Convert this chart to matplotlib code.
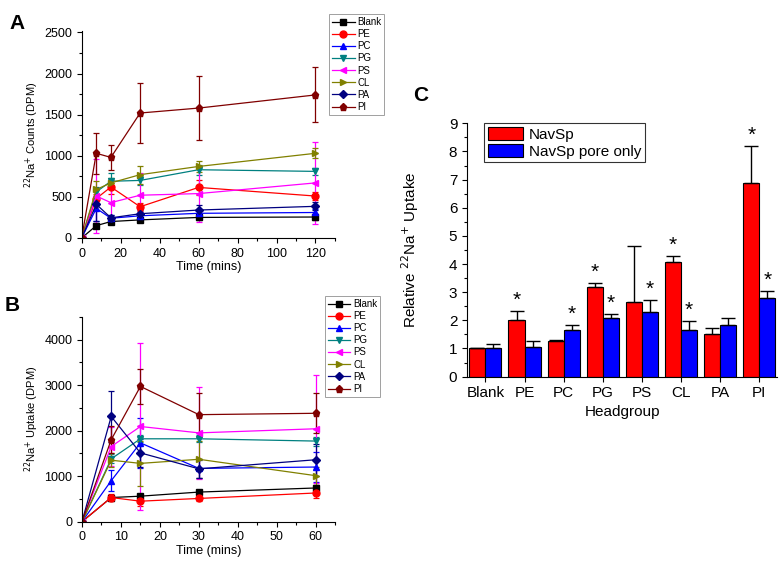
import numpy as np
import matplotlib.pyplot as plt
from matplotlib.lines import Line2D
from matplotlib.ticker import MultipleLocator

plt.rcParams['font.family'] = ['Liberation Sans', 'DejaVu Sans']

# lipid headgroups and Origin-like colours / markers
names = ['Blank', 'PE', 'PC', 'PG', 'PS', 'CL', 'PA', 'PI']
colors = ['#000000', '#FF0000', '#0000FF', '#008080', '#FF00FF', '#808000', '#000080', '#800000']
markers = ['s', 'o', '^', 'v', '<', '>', 'D', 'p']
msizes = [4.5, 5, 5, 5, 5, 5, 4, 5.2]

# panel A: counts over time
time_a = [0, 7.5, 15, 30, 60, 120]
counts_a = [
    [0, 150, 200, 220, 250, 255],
    [0, 480, 620, 380, 615, 510],
    [0, 360, 240, 270, 300, 310],
    [0, 560, 690, 700, 830, 810],
    [0, 510, 430, 520, 540, 670],
    [0, 590, 670, 770, 870, 1030],
    [0, 410, 245, 295, 340, 385],
    [0, 1030, 980, 1520, 1580, 1740],
]
err_a = [
    [0, 30, 20, 20, 30, 40],
    [0, 60, 80, 50, 90, 50],
    [0, 150, 40, 40, 50, 40],
    [0, 60, 100, 50, 60, 40],
    [0, 450, 180, 270, 340, 500],
    [0, 100, 60, 110, 70, 60],
    [0, 200, 40, 40, 60, 50],
    [0, 250, 155, 370, 390, 335],
]

# panel B: uptake over time
time_b = [0, 7.5, 15, 30, 60]
uptake_b = [
    [0, 530, 560, 650, 740],
    [0, 530, 450, 510, 630],
    [0, 900, 1730, 1170, 1200],
    [0, 1380, 1820, 1820, 1770],
    [0, 1650, 2090, 1950, 2040],
    [0, 1350, 1280, 1370, 1010],
    [0, 2310, 1510, 1160, 1360],
    [0, 1800, 2970, 2350, 2380],
]
err_b = [
    [0, 50, 50, 50, 60],
    [0, 80, 100, 60, 100],
    [0, 230, 550, 200, 330],
    [0, 100, 80, 80, 100],
    [0, 430, 1830, 1010, 1190],
    [0, 150, 500, 400, 200],
    [0, 560, 300, 200, 350],
    [0, 300, 390, 480, 440],
]

# panel C: relative uptake
navsp = [1.0, 2.03, 1.25, 3.2, 2.65, 4.07, 1.5, 6.88]
navsp_err = [0, 0.30, 0.05, 0.13, 1.98, 0.23, 0.22, 1.32]
pore = [1.0, 1.07, 1.65, 2.1, 2.28, 1.65, 1.85, 2.78]
pore_err = [0.15, 0.21, 0.2, 0.13, 0.44, 0.32, 0.22, 0.27]
navsp_sig = [False, True, False, True, False, True, False, True]
pore_sig = [False, False, True, True, True, True, False, True]

fig = plt.figure(figsize=(7.83, 5.63), dpi=100)


def style_axes(ax, size):
    ax.spines['top'].set_visible(False)
    ax.spines['right'].set_visible(False)
    ax.tick_params(which='major', direction='out', length=3.5, width=0.8, labelsize=size)
    ax.tick_params(which='minor', direction='out', length=2, width=0.8)


def line_panel(ax, t, data, errs, legend_box):
    handles = []
    for name, c, m, s, y, e in zip(names, colors, markers, msizes, data, errs):
        ax.errorbar(t, y, yerr=e, color=c, marker=m, ms=s, lw=0.9,
                    elinewidth=0.9, capsize=2.5, capthick=0.9)
        handles.append(Line2D([], [], color=c, marker=m, ms=s, lw=0.9, label=name))
    style_axes(ax, 9)
    leg = ax.legend(handles=handles, loc='upper left', bbox_to_anchor=legend_box,
                    bbox_transform=fig.transFigure, fontsize=7, frameon=True, fancybox=False,
                    edgecolor='#888888', handlelength=2.3, handletextpad=0.3, labelspacing=0.22,
                    borderpad=0.3, borderaxespad=0)
    leg.get_frame().set_linewidth(0.7)
    ax.set_xlabel('Time (mins)', fontsize=9, labelpad=1)


# A
axa = fig.add_axes([0.1043, 0.5773, 0.3235, 0.368])
line_panel(axa, time_a, counts_a, err_a, (0.4205, 0.975))
axa.set_xlim(0, 130)
axa.set_ylim(0, 2520)
axa.xaxis.set_major_locator(MultipleLocator(20))
axa.xaxis.set_minor_locator(MultipleLocator(10))
axa.yaxis.set_major_locator(MultipleLocator(500))
axa.yaxis.set_minor_locator(MultipleLocator(250))
axa.set_ylabel('$^{22}$Na$^{+}$ Counts (DPM)', fontsize=8, labelpad=2)
fig.text(0.012, 0.975, 'A', fontsize=15, fontweight='bold', va='top')

# B
axb = fig.add_axes([0.1047, 0.0734, 0.3235, 0.364])
line_panel(axb, time_b, uptake_b, err_b, (0.415, 0.4742))
axb.set_xlim(0, 65)
axb.set_ylim(0, 4500)
axb.xaxis.set_major_locator(MultipleLocator(10))
axb.xaxis.set_minor_locator(MultipleLocator(5))
axb.yaxis.set_major_locator(MultipleLocator(1000))
axb.yaxis.set_minor_locator(MultipleLocator(500))
axb.set_ylabel('$^{22}$Na$^{+}$ Uptake (DPM)', fontsize=8, labelpad=2)
fig.text(0.006, 0.475, 'B', fontsize=15, fontweight='bold', va='top')

# C
axc = fig.add_axes([0.5964, 0.331, 0.396, 0.450])
x = np.arange(len(names))
w = 0.41
axc.bar(x - w / 2, navsp, w, color='#FF0000', edgecolor='black', lw=0.8, label='NavSp')
axc.bar(x + w / 2, pore, w, color='#0000FF', edgecolor='black', lw=0.8, label='NavSp pore only')
axc.errorbar(x - w / 2, navsp, yerr=[np.zeros(8), navsp_err], fmt='none', ecolor='black',
             elinewidth=1, capsize=5, capthick=1)
axc.errorbar(x + w / 2, pore, yerr=[np.zeros(8), pore_err], fmt='none', ecolor='black',
             elinewidth=1, capsize=5, capthick=1)
for i in range(len(names)):
    if navsp_sig[i]:
        axc.text(x[i] - w / 2, navsp[i] + navsp_err[i] + 0.04, '*', ha='center', va='bottom', fontsize=15)
    if pore_sig[i]:
        axc.text(x[i] + w / 2, pore[i] + pore_err[i] + 0.04, '*', ha='center', va='bottom', fontsize=15)
style_axes(axc, 11)
axc.set_xlim(-0.47, 7.45)
axc.set_ylim(0, 9)
axc.set_xticks(x)
axc.set_xticklabels(names)
axc.yaxis.set_major_locator(MultipleLocator(1))
axc.yaxis.set_minor_locator(MultipleLocator(0.5))
axc.set_xlabel('Headgroup', fontsize=11, labelpad=3)
axc.set_ylabel('Relative $^{22}$Na$^{+}$ Uptake', fontsize=11, labelpad=20)
legc = axc.legend(loc='upper left', bbox_to_anchor=(0.055, 1.0), fontsize=11, frameon=True,
                  fancybox=False, edgecolor='black', handlelength=2.3, handleheight=0.9,
                  handletextpad=0.4, labelspacing=0.15, borderpad=0.25, borderaxespad=0)
legc.get_frame().set_linewidth(0.8)
fig.text(0.528, 0.848, 'C', fontsize=15, fontweight='bold', va='top')

fig.savefig('out.png', dpi=100)
